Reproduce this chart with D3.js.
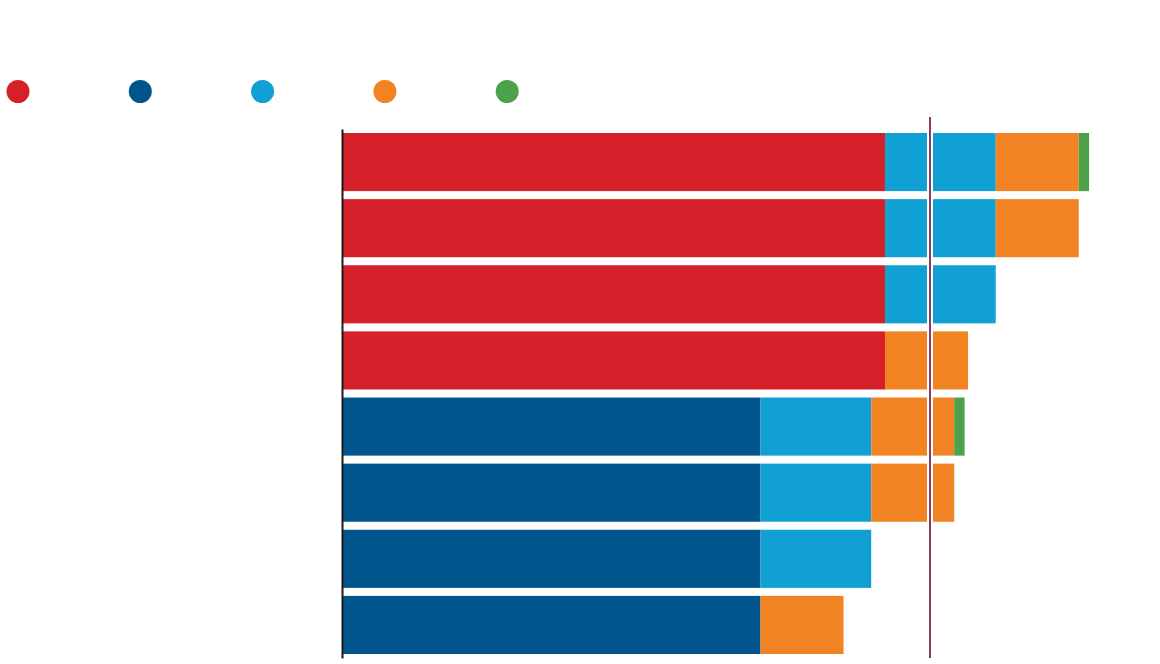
<!DOCTYPE html>
<html>
<head>
<meta charset="utf-8">
<script src="https://cdn.jsdelivr.net/npm/d3@7"></script>
<style>
  html, body { margin: 0; padding: 0; background: #fff; }
  svg { display: block; }
</style>
</head>
<body>
<svg id="chart" width="1160" height="664"></svg>
<script>
// Parties (legend order) and their seat counts
const parties = ["Liberal", "Conservative", "Bloc Québécois", "NDP", "Green"];
const seats = [157, 121, 32, 24, 3];
const colors = ["#d62029", "#00558c", "#10a0d4", "#f28322", "#4ca14a"];
const majority = 170;

// Coalition rows: indices into parties
const coalitions = [
  [0, 2, 3, 4],
  [0, 2, 3],
  [0, 2],
  [0, 3],
  [1, 2, 3, 4],
  [1, 2, 3],
  [1, 2],
  [1, 3]
];

const svg = d3.select("#chart");

const x = d3.scaleLinear().domain([0, majority]).range([342, 930]);
const y = d3.scaleBand()
  .domain(d3.range(coalitions.length))
  .range([129, 658])
  .paddingInner(8 / 66)
  .paddingOuter(4 / 66);

// Build stacked segments
const segs = [];
coalitions.forEach((c, row) => {
  let acc = 0;
  c.forEach(p => {
    segs.push({ row, party: p, x0: acc, x1: acc + seats[p] });
    acc += seats[p];
  });
});

svg.append("g").selectAll("rect")
  .data(segs)
  .join("rect")
  .attr("x", d => x(d.x0))
  .attr("width", d => x(d.x1) - x(d.x0))
  .attr("y", d => y(d.row))
  .attr("height", y.bandwidth())
  .attr("fill", d => colors[d.party]);

// Left axis line
const axis = svg.append("g")
  .attr("transform", `translate(${x(0)},0)`)
  .call(d3.axisLeft(y).tickSize(0).tickSizeOuter(0).tickFormat(""));
axis.select(".domain").attr("stroke", "#1a1a1a").attr("stroke-width", 2);

// Majority line with white halo
svg.append("line")
  .attr("x1", x(majority)).attr("x2", x(majority))
  .attr("y1", 117).attr("y2", 658)
  .attr("stroke", "#fff").attr("stroke-width", 6);
svg.append("line")
  .attr("x1", x(majority)).attr("x2", x(majority))
  .attr("y1", 117).attr("y2", 658)
  .attr("stroke", "#893b62").attr("stroke-width", 2);

// Legend dots
svg.append("g").selectAll("circle")
  .data(parties)
  .join("circle")
  .attr("cx", (d, i) => 18 + i * 122.3)
  .attr("cy", 91.5)
  .attr("r", 11.5)
  .attr("fill", (d, i) => colors[i]);
</script>
</body>
</html>
